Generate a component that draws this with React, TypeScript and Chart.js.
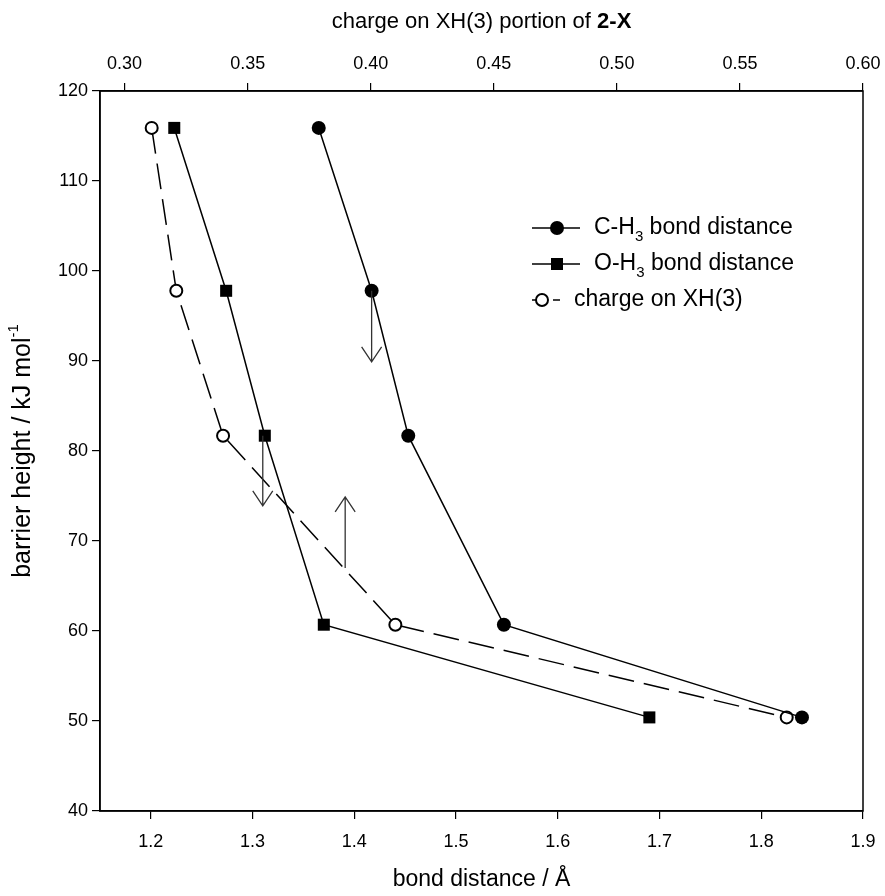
import React, { useEffect, useRef } from "react";
import { Chart, registerables } from "chart.js";
Chart.register(...registerables);

// ---- data ----
const barrierHeight = [115.9, 97.8, 81.7, 60.7, 50.4];
const chBondDistance = [1.365, 1.417, 1.453, 1.547, 1.84];
const ohBondDistance = [1.223, 1.274, 1.312, 1.37, 1.69];
const chargeXH3 = [0.311, 0.321, 0.34, 0.41, 0.569];

const bondTicks = [1.2, 1.3, 1.4, 1.5, 1.6, 1.7, 1.8, 1.9];
const chargeTicks = [0.3, 0.35, 0.4, 0.45, 0.5, 0.55, 0.6];
const barrierTicks = [40, 50, 60, 70, 80, 90, 100, 110, 120];

// arrows (bond-distance x, barrier from -> to)
const arrowBond = [1.417, 1.31, 1.391];
const arrowFrom = [97.8, 81.7, 67.0];
const arrowTo = [89.9, 73.9, 74.9];

const FONT = '"Liberation Sans", Arial, Helvetica, sans-serif';

type Run = { t: string; f: string; dy?: number };

function runsWidth(ctx: CanvasRenderingContext2D, runs: Run[]) {
  let w = 0;
  for (const r of runs) {
    ctx.font = r.f;
    w += ctx.measureText(r.t).width;
  }
  return w;
}

function drawRuns(ctx: CanvasRenderingContext2D, runs: Run[], x: number, y: number, align: "left" | "center") {
  let cx = align === "center" ? x - runsWidth(ctx, runs) / 2 : x;
  ctx.textAlign = "left";
  ctx.textBaseline = "middle";
  for (const r of runs) {
    ctx.font = r.f;
    ctx.fillText(r.t, cx, y + (r.dy || 0));
    cx += ctx.measureText(r.t).width;
  }
}

const decorPlugin = {
  id: "decor",
  afterDraw(chart: any) {
    const { ctx, chartArea: a, scales } = chart;
    const xs = scales.x;
    const ys = scales.y;
    ctx.save();
    // frame
    ctx.strokeStyle = "#000";
    ctx.lineWidth = 1.5;
    ctx.strokeRect(a.left, a.top, a.right - a.left, a.bottom - a.top);

    // arrows
    ctx.strokeStyle = "#333";
    ctx.lineWidth = 1.3;
    arrowBond.forEach((b, i) => {
      const x = xs.getPixelForValue(b);
      const y0 = ys.getPixelForValue(arrowFrom[i]);
      const y1 = ys.getPixelForValue(arrowTo[i]);
      const dir = y1 > y0 ? 1 : -1;
      ctx.beginPath();
      ctx.moveTo(x, y0);
      ctx.lineTo(x, y1);
      ctx.moveTo(x - 10, y1 - dir * 15);
      ctx.lineTo(x, y1);
      ctx.lineTo(x + 10, y1 - dir * 15);
      ctx.stroke();
    });

    ctx.fillStyle = "#000";
    const tf = `23px ${FONT}`;
    const cx = (a.left + a.right) / 2;
    // top title
    drawRuns(ctx, [
      { t: "charge on XH(3) portion of ", f: `22px ${FONT}` },
      { t: "2-X", f: `bold 22px ${FONT}` },
    ], cx, 22, "center");
    // bottom title
    drawRuns(ctx, [{ t: "bond distance / Å", f: tf }], cx, 880, "center");
    // y title
    ctx.save();
    ctx.translate(23, (a.top + a.bottom) / 2);
    ctx.rotate(-Math.PI / 2);
    drawRuns(ctx, [
      { t: "barrier height / kJ mol", f: `25px ${FONT}` },
      { t: "-1", f: `15px ${FONT}`, dy: -9 },
    ], 0, 0, "center");
    ctx.restore();

    // legend
    const lf = `23px ${FONT}`;
    const sf = `15px ${FONT}`;
    const rows = [228, 264, 300];
    ctx.strokeStyle = "#000";
    ctx.lineWidth = 1.5;
    // row 1
    ctx.beginPath();
    ctx.moveTo(532, rows[0]);
    ctx.lineTo(580, rows[0]);
    ctx.stroke();
    ctx.beginPath();
    ctx.arc(557, rows[0], 7, 0, Math.PI * 2);
    ctx.fill();
    drawRuns(ctx, [
      { t: "C-H", f: lf },
      { t: "3", f: sf, dy: 9 },
      { t: " bond distance", f: lf },
    ], 594, rows[0], "left");
    // row 2
    ctx.beginPath();
    ctx.moveTo(532, rows[1]);
    ctx.lineTo(580, rows[1]);
    ctx.stroke();
    ctx.fillRect(551, rows[1] - 6, 12, 12);
    drawRuns(ctx, [
      { t: "O-H", f: lf },
      { t: "3", f: sf, dy: 9 },
      { t: " bond distance", f: lf },
    ], 594, rows[1], "left");
    // row 3
    ctx.beginPath();
    ctx.moveTo(532, rows[2]);
    ctx.lineTo(536, rows[2]);
    ctx.moveTo(553, rows[2]);
    ctx.lineTo(560, rows[2]);
    ctx.stroke();
    ctx.beginPath();
    ctx.lineWidth = 2;
    ctx.arc(542, rows[2], 6, 0, Math.PI * 2);
    ctx.fillStyle = "#fff";
    ctx.fill();
    ctx.stroke();
    ctx.fillStyle = "#000";
    drawRuns(ctx, [{ t: "charge on XH(3)", f: lf }], 574, rows[2], "left");

    ctx.restore();
  },
};

function axisCommon(fixed: (s: any) => void, ticks: number[], digits: number, padding: number) {
  return {
    type: "linear" as const,
    afterBuildTicks: (s: any) => {
      s.ticks = ticks.map((v) => ({ value: v }));
    },
    afterFit: fixed,
    ticks: {
      color: "#000",
      font: { family: FONT, size: 18 },
      padding,
      autoSkip: false,
      maxRotation: 0,
      callback: (v: any) => Number(v).toFixed(digits),
    },
    grid: { drawOnChartArea: false, drawTicks: true, tickLength: 8, color: "#000", lineWidth: 1.2 },
    border: { display: true, color: "#000", width: 1.5 },
  };
}

export default function App() {
  const ref = useRef<HTMLCanvasElement | null>(null);
  useEffect(() => {
    document.body.style.margin = "0";
    if (!ref.current) return;
    const chart = new Chart(ref.current, {
      type: "line",
      data: {
        datasets: [
          {
            label: "C-H3 bond distance",
            data: chBondDistance.map((x, i) => ({ x, y: barrierHeight[i] })),
            xAxisID: "x",
            yAxisID: "y",
            borderColor: "#000",
            backgroundColor: "#000",
            borderWidth: 1.5,
            pointStyle: "circle",
            pointRadius: 7,
            pointBorderWidth: 0,
            pointBackgroundColor: "#000",
            tension: 0,
          },
          {
            label: "O-H3 bond distance",
            data: ohBondDistance.map((x, i) => ({ x, y: barrierHeight[i] })),
            xAxisID: "x",
            yAxisID: "y",
            borderColor: "#000",
            backgroundColor: "#000",
            borderWidth: 1.5,
            pointStyle: "rect",
            pointRadius: 8.5,
            pointBorderWidth: 0,
            pointBackgroundColor: "#000",
            tension: 0,
          },
          {
            label: "charge on XH(3)",
            data: chargeXH3.map((x, i) => ({ x, y: barrierHeight[i] })),
            xAxisID: "x2",
            yAxisID: "y",
            borderColor: "#000",
            backgroundColor: "#fff",
            borderWidth: 1.5,
            borderDash: [26, 10],
            pointStyle: "circle",
            pointRadius: 6,
            pointBorderWidth: 2,
            pointBorderColor: "#000",
            pointBackgroundColor: "#fff",
            tension: 0,
          },
        ],
      },
      options: {
        responsive: false,
        animation: false,
        devicePixelRatio: 1,
        layout: { padding: { left: 0, right: 22, top: 0, bottom: 0 } },
        plugins: {
          legend: { display: false },
          tooltip: { enabled: false },
          title: { display: false },
        },
        scales: {
          x: {
            ...axisCommon((s: any) => { s.height = 85; s.paddingLeft = 0; s.paddingRight = 0; }, bondTicks, 1, 12),
            position: "bottom",
            min: 1.15,
            max: 1.9,
          },
          x2: {
            ...axisCommon((s: any) => { s.height = 91; s.paddingLeft = 0; s.paddingRight = 0; }, chargeTicks, 2, 8),
            position: "top",
            min: 0.29,
            max: 0.6,
          },
          y: {
            ...axisCommon((s: any) => { s.width = 100; s.paddingTop = 0; s.paddingBottom = 0; }, barrierTicks, 0, 4),
            position: "left",
            min: 40,
            max: 120,
          },
        },
      },
      plugins: [decorPlugin],
    } as any);
    return () => chart.destroy();
  }, []);
  return (
    <canvas ref={ref} width={885} height={896} style={{ display: "block", width: 885, height: 896 }} />
  );
}
